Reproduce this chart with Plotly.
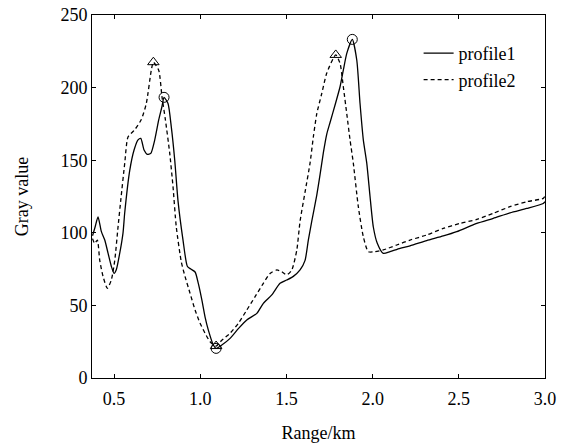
import plotly.graph_objects as go

# profile1 (solid)
p1_x = [0.375, 0.39, 0.407, 0.426, 0.446, 0.465, 0.484, 0.5, 0.513, 0.533, 0.552, 0.562,
        0.591, 0.616, 0.639, 0.655, 0.674, 0.693, 0.713, 0.736, 0.759, 0.778, 0.79,
        0.813, 0.832, 0.852, 0.871, 0.9, 0.925, 0.945, 0.97, 0.989, 1.009, 1.028, 1.047,
        1.076, 1.092, 1.125, 1.173, 1.221, 1.27, 1.328, 1.366, 1.415, 1.463, 1.502, 1.54,
        1.579, 1.608, 1.627, 1.647, 1.676, 1.695, 1.714, 1.734, 1.753, 1.782, 1.811, 1.83,
        1.85, 1.882, 1.908, 1.927, 1.946, 1.966, 1.985, 2.004, 2.027, 2.062, 2.101, 2.159,
        2.217, 2.314, 2.41, 2.488, 2.604, 2.7, 2.797, 2.894, 2.99, 3.0]
p1_y = [98, 104, 111, 101, 95, 86, 77, 72, 74.5, 86, 100, 114,
        143, 157, 164, 165, 157, 154, 154.7, 164, 177.7, 187, 193.3,
        189, 173, 150, 122, 95, 77, 75, 73, 65, 54, 42, 33,
        22.7, 20.4, 22.7, 27.3, 34, 40, 44.5, 51.4, 57.2, 65.2, 67.5, 70,
        74.4, 81, 95, 108, 126, 140, 155, 168, 176, 188, 200.6, 212,
        223.6, 233.2, 219, 189, 164, 148, 125, 104, 92.8, 85.8, 87, 89.3,
        91, 94.6, 97.8, 100.8, 106.5, 110, 113.8, 116.8, 120.2, 121.4]

# profile2 (dashed)
p2_x = [0.375, 0.388, 0.403, 0.417, 0.436, 0.461, 0.484, 0.504, 0.523, 0.539, 0.562,
        0.581, 0.62, 0.658, 0.687, 0.716, 0.728, 0.759, 0.778, 0.798, 0.823, 0.842,
        0.861, 0.89, 0.912, 0.941, 0.97, 0.999, 1.028, 1.057, 1.092, 1.125, 1.173,
        1.221, 1.27, 1.318, 1.366, 1.405, 1.444, 1.473, 1.502, 1.531, 1.56, 1.579,
        1.608, 1.637, 1.656, 1.676, 1.705, 1.734, 1.786, 1.811, 1.83, 1.85, 1.869,
        1.888, 1.917, 1.946, 1.975, 2.014, 2.062, 2.14, 2.217, 2.314, 2.41, 2.507,
        2.604, 2.7, 2.797, 2.894, 2.99, 3.0]
p2_y = [96, 92.7, 95, 81, 70, 61.8, 67.5, 81, 104, 122.6, 148,
        166, 171, 178, 189, 212, 217.5, 212, 193.7, 177.7, 154.7, 131.7,
        104, 80, 69.8, 58.3, 46.8, 37.7, 30.8, 25, 22, 26, 30.8,
        37.7, 46.8, 56, 65.2, 72, 74.4, 73.2, 71, 74.4, 88, 108,
        128, 148, 166, 182, 196, 210, 222.5, 216.7, 200.6, 182, 164,
        148, 118, 97.3, 87, 87, 88.2, 91.6, 95, 98.5, 103, 106.5,
        109.2, 113.4, 118, 121.4, 123.7, 125.3]

# marked extrema
p1_mark_x = [0.79, 1.092, 1.882]
p1_mark_y = [193.3, 20.4, 233.2]
p2_mark_x = [0.728, 1.092, 1.786]
p2_mark_y = [217.5, 22, 222.5]

x_ticks = [0.5, 1.0, 1.5, 2.0, 2.5, 3.0]
y_ticks = [0, 50, 100, 150, 200, 250]

font = dict(family="Liberation Serif", size=18, color="black")

fig = go.Figure()
fig.add_trace(go.Scatter(x=p1_x, y=p1_y, mode="lines", name="profile1",
                         line=dict(color="black", width=1.3, shape="spline", smoothing=0.6)))
fig.add_trace(go.Scatter(x=p2_x, y=p2_y, mode="lines", name="profile2",
                         line=dict(color="black", width=1.3, dash="4px,3px", shape="spline", smoothing=0.6)))
fig.add_trace(go.Scatter(x=p1_mark_x, y=p1_mark_y, mode="markers", showlegend=False,
                         marker=dict(symbol="circle-open", size=10, color="black", line=dict(width=1))))
fig.add_trace(go.Scatter(x=p2_mark_x, y=p2_mark_y, mode="markers", showlegend=False,
                         marker=dict(symbol="triangle-up-open", size=10, color="black", line=dict(width=1))))

axis_common = dict(showline=True, linecolor="black", linewidth=1, mirror="ticks",
                   ticks="inside", ticklen=4, tickcolor="black", showgrid=False,
                   zeroline=False, tickfont=font, automargin=False)

fig.update_layout(
    width=567, height=443,
    margin=dict(l=92, r=22, t=15, b=65),
    paper_bgcolor="white", plot_bgcolor="white",
    font=font,
    xaxis=dict(range=[0.372, 3.0], tickvals=x_ticks, ticktext=[f"{v:.1f}" for v in x_ticks],
               ticklabelstandoff=4,
               title=dict(text="Range/km", font=font, standoff=20), **axis_common),
    yaxis=dict(range=[0, 250], tickvals=y_ticks,
               title=dict(text="Gray value", font=font, standoff=27), **axis_common),
    legend=dict(x=0.721, y=0.945, xanchor="left", yanchor="top", bgcolor="rgba(0,0,0,0)",
                font=font, tracegroupgap=0, itemwidth=30),
)

fig.write_html("out.html", config={"displayModeBar": False},
               post_script="document.body.style.margin='0';")
